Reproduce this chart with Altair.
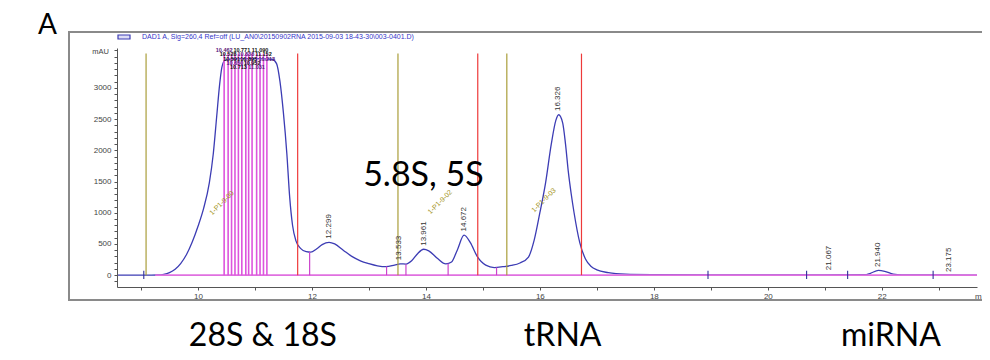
import altair as alt
import pandas as pd

# ---- chromatogram trace (retention time in min, signal in mAU) ----
time = [8.58, 9.00, 9.30, 9.40, 9.50, 9.60, 9.70, 9.80, 9.90, 10.00, 10.10, 10.20, 10.27, 10.33,
        10.38, 10.42, 10.47, 10.60, 11.00, 11.30, 11.38, 11.44, 11.50, 11.56, 11.61, 11.66, 11.72,
        11.80, 11.90, 11.98, 12.08, 12.18, 12.30, 12.40, 12.55, 12.70, 12.85, 13.00, 13.15, 13.30,
        13.45, 13.55, 13.65, 13.75, 13.85, 13.96, 14.05, 14.20, 14.35, 14.45, 14.55, 14.67, 14.78,
        14.90, 15.05, 15.20, 15.35, 15.50, 15.65, 15.80, 15.90, 16.00, 16.10, 16.20, 16.28, 16.33,
        16.40, 16.45, 16.50, 16.55, 16.60, 16.70, 16.80, 16.90, 17.00, 17.20, 17.50, 18.00, 19.00,
        20.00, 21.00, 21.70, 21.80, 21.94, 22.05, 22.20, 22.35, 23.00, 23.67]
mau = [0, 0, 2, 12, 40, 95, 190, 330, 530, 780, 1070, 1480, 1950, 2550,
       3050, 3330, 3440, 3465, 3470, 3460, 3390, 3100, 2600, 1950, 1250, 800, 550,
       430, 378, 370, 420, 490, 525, 500, 400, 300, 230, 185, 150, 135,
       160, 180, 178, 230, 340, 415, 390, 270, 180, 210, 400, 640, 520,
       300, 160, 122, 135, 155, 195, 290, 560, 1000, 1480, 2100, 2480, 2570,
       2440, 2100, 1650, 1300, 1000, 520, 260, 140, 85, 40, 15, 8, 4,
       3, 5, 6, 30, 75, 62, 18, 5, 2, 0]

# integration event lines
cluster_times = [10.46, 10.53, 10.59, 10.65, 10.71, 10.77, 10.84, 10.89, 10.95, 11.03, 11.09, 11.15, 11.21]
cluster_labels = ["10.462", "10.528", "10.591", "10.650", "10.713", "10.771", "10.838",
                  "10.893", "10.952", "11.031", "11.090", "11.152", "11.213"]
cluster_rows = [3610, 3545, 3470, 3400, 3330]
red_times = [11.75, 14.91, 16.73]
olive_times = [9.09, 13.51, 15.42]
event_top = 3550

# peak boundary ticks
bound_times = [11.96, 13.31, 13.65, 14.39, 15.24]
bound_tops = [370, 140, 176, 185, 124]
cross_times = [9.05, 18.95, 20.68, 21.40, 22.90]

# peak retention-time labels
peak_times = [12.299, 13.533, 13.961, 14.672, 16.326, 21.067, 21.940, 23.175]
peak_label_y = [585, 240, 470, 700, 2630, 80, 130, 50]
peak_labels = ["12.299", "13.533", "13.961", "14.672", "16.326", "21.067", "21.940", "23.175"]

# diagonal event labels
event_x = [10.42, 14.25, 16.07]
event_y = [1155, 1170, 1200]
event_labels = ["1-P1-9-00", "1-P1-9-02", "1-P1-9-03"]

# big annotations
big_x = [13.956]
big_y = [1430]
big_labels = ["5.8S, 5S"]
bottom_x = [11.14, 16.40, 22.16]
bottom_labels = ["28S & 18S", "tRNA", "miRNA"]

# axis ticks
x_ticks = [9 + 0.5 * i for i in range(30)]
y_ticks = [-100 + 100 * i for i in range(38)]

XDOM = [8.58, 23.67]
YDOM = [-190, 3640]
FONT = "Liberation Sans"

xs = alt.Scale(domain=XDOM, nice=False, zero=False)
ys = alt.Scale(domain=YDOM, nice=False, zero=False)

XAX = alt.Axis(values=x_ticks, labelExpr="datum.value % 2 == 0 ? datum.label : ''",
               grid=False, tickSize=3, tickColor="#555", domainColor="#555",
               labelFont=FONT, labelFontSize=8, labelColor="#444", labelPadding=2,
               format="d", zindex=1)
YAX = alt.Axis(values=y_ticks,
               labelExpr="(datum.value >= 0 && datum.value <= 3000 && datum.value % 500 == 0) ? datum.label : ''",
               grid=False, tickSize=3, tickColor="#555", domainColor="#555",
               labelFont=FONT, labelFontSize=8, labelColor="#444", labelPadding=3,
               format="d", zindex=1)


def X(f):
    return alt.X(f, scale=xs, title=None, axis=XAX)


def Y(f):
    return alt.Y(f, scale=ys, title=None, axis=YAX)


trace = pd.DataFrame({"t": time, "v": mau})

curve = alt.Chart(trace).mark_line(color="#3c3cb4", strokeWidth=1.3, interpolate="monotone").encode(
    x=X("t:Q"), y=Y("v:Q"))

frame = alt.Chart(pd.DataFrame({"a": [0]})).mark_rect(
    filled=False, stroke="#8a8a8a", strokeWidth=2
).encode(x=alt.value(-48), x2=alt.value(885), y=alt.value(-16), y2=alt.value(252))

baseline = alt.Chart(pd.DataFrame({"t": [9.25], "t2": [XDOM[1]], "v": [0]})).mark_rule(
    color="#e070e0", strokeWidth=1.6
).encode(x=X("t:Q"), x2="t2:Q", y=Y("v:Q"))

cl = pd.DataFrame({"t": cluster_times, "lab": cluster_labels,
                   "y0": [0] * len(cluster_times), "y1": [event_top] * len(cluster_times),
                   "row": [cluster_rows[i % 5] for i in range(len(cluster_times))],
                   "c": ["#111111" if i % 3 else "#5a1a7a" for i in range(len(cluster_times))]})
cluster_lines = alt.Chart(cl).mark_rule(color="#dd55dd", strokeWidth=1.6).encode(
    x=X("t:Q"), y=Y("y0:Q"), y2="y1:Q")

ev = pd.DataFrame({"t": red_times + olive_times, "y0": [0] * 6, "y1": [event_top] * 6,
                   "kind": ["red"] * 3 + ["olive"] * 3})
event_lines = alt.Chart(ev).mark_rule(strokeWidth=1.2).encode(
    x=X("t:Q"), y=Y("y0:Q"), y2="y1:Q",
    color=alt.Color("kind:N", scale=alt.Scale(domain=["red", "olive"], range=["#ee3a3a", "#aa9e3a"]),
                    legend=None))

bd = pd.DataFrame({"t": bound_times, "y0": [0] * 5, "y1": bound_tops})
bound_ticks = alt.Chart(bd).mark_rule(color="#cc44cc", strokeWidth=1.2).encode(
    x=X("t:Q"), y=Y("y0:Q"), y2="y1:Q")

cr = pd.DataFrame({"t": cross_times, "y0": [-60] * 5, "y1": [70] * 5})
cross_ticks = alt.Chart(cr).mark_rule(color="#30309a", strokeWidth=1.1).encode(
    x=X("t:Q"), y=Y("y0:Q"), y2="y1:Q")

cluster_text = alt.Chart(cl).mark_text(font=FONT, fontSize=5.5, fontWeight="bold", align="center",
                                       baseline="middle").encode(
    x=X("t:Q"), y=Y("row:Q"), text="lab:N", color=alt.Color("c:N", scale=None, legend=None))

pk = pd.DataFrame({"t": peak_times, "y": peak_label_y, "lab": peak_labels})
peak_text = alt.Chart(pk).mark_text(font=FONT, fontSize=8, angle=270, align="left",
                                    baseline="middle", color="#333333").encode(
    x=X("t:Q"), y=Y("y:Q"), text="lab:N")

el = pd.DataFrame({"t": event_x, "y": event_y, "lab": event_labels})
event_text = alt.Chart(el).mark_text(font=FONT, fontSize=7, angle=315, align="center",
                                     baseline="middle", color="#a09010").encode(
    x=X("t:Q"), y=Y("y:Q"), text="lab:N")

big = pd.DataFrame({"t": big_x, "y": big_y, "lab": big_labels})
big_text = alt.Chart(big).mark_text(font="Lato", fontSize=34, align="center",
                                    baseline="alphabetic", color="#000000").encode(
    x=X("t:Q"), y=Y("y:Q"), text="lab:N")

bottom = pd.DataFrame({"t": bottom_x, "lab": bottom_labels})
bottom_text = alt.Chart(bottom).mark_text(font="Lato", fontSize=32, align="center",
                                          baseline="alphabetic", color="#000000").encode(
    x=X("t:Q"), y=alt.value(298), text="lab:N")

panel = alt.Chart(pd.DataFrame({"lab": ["A"]})).mark_text(
    font="Lato", fontSize=28, align="left", baseline="alphabetic", color="#000000"
).encode(x=alt.value(-79), y=alt.value(-14), text="lab:N")

legend_box = alt.Chart(pd.DataFrame({"a": [0]})).mark_rect(
    fill="#dcdcf4", stroke="#3c3cb4", strokeWidth=1.2
).encode(x=alt.value(1), x2=alt.value(13), y=alt.value(-13), y2=alt.value(-9))

legend_text = alt.Chart(pd.DataFrame({
    "lab": [r"DAD1 A, Sig=260,4 Ref=off (LU_AN0\20150902RNA 2015-09-03 18-43-30\003-0401.D)"]
})).mark_text(font=FONT, fontSize=7, align="left", baseline="middle", color="#3535c8").encode(
    x=alt.value(25), y=alt.value(-11), text="lab:N")

unit_text = alt.Chart(pd.DataFrame({"lab": ["mAU"]})).mark_text(
    font=FONT, fontSize=7.5, align="right", baseline="middle", color="#444444"
).encode(x=alt.value(-8), y=alt.value(4), text="lab:N")

min_text = alt.Chart(pd.DataFrame({"lab": ["m"]})).mark_text(
    font=FONT, fontSize=8, align="left", baseline="middle", color="#444444"
).encode(x=alt.value(858), y=alt.value(249), text="lab:N")

chart = alt.layer(
    curve, frame, baseline, cluster_lines, event_lines, bound_ticks, cross_ticks,
    cluster_text, peak_text, event_text, big_text, bottom_text, panel,
    legend_box, legend_text, unit_text, min_text
).properties(
    width=860, height=239,
    padding={"left": 109, "top": 40, "right": 5, "bottom": 70},
    autosize=alt.AutoSizeParams(type="none"),
    background="white"
).configure_view(stroke=None)

chart.save("out.html", embed_options={"renderer": "svg", "actions": False})
